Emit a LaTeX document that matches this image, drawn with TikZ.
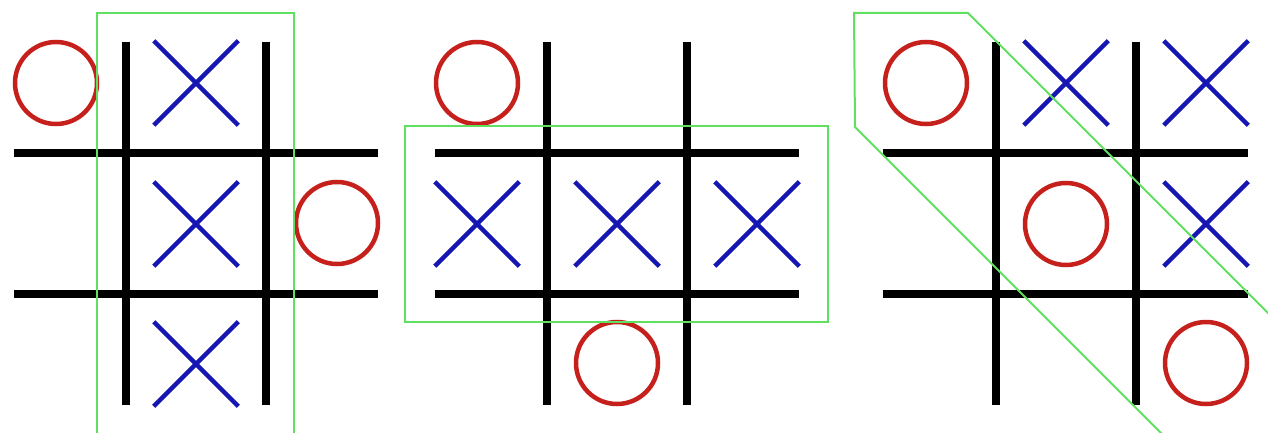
\documentclass[tikz,border=0pt]{standalone}
\usetikzlibrary{shapes.misc}
\definecolor{ored}{RGB}{198,32,28}
\definecolor{xblue}{RGB}{22,22,178}
\definecolor{hlgreen}{RGB}{95,225,95}
\begin{document}
\begin{tikzpicture}[x=1pt,y=-1pt,
  gridline/.style={line width=7.5pt,black},
  xmark/.style={draw=xblue,cross out,line width=4.5pt,minimum size=80pt,inner sep=0pt},
  omark/.style={draw=ored,circle,line width=4.5pt,minimum size=82pt,inner sep=0pt},
  hl/.style={draw=hlgreen,line width=2pt}]
\useasboundingbox (0,0) rectangle (1268,433);
\fill[white] (0,0) rectangle (1268,433);
\clip (0,0) rectangle (1268,433);
% grids
\foreach \a/\b/\c/\d in {126/266/14/378, 547/687/435/799, 996/1136/883/1248}{
  \draw[gridline] (\a,42) -- (\a,405);
  \draw[gridline] (\b,42) -- (\b,405);
  \draw[gridline] (\c,153) -- (\d,153);
  \draw[gridline] (\c,294) -- (\d,294);
}
% board 1
\node[xmark] (b1x1) at (196,83) {};
\node[xmark] (b1x2) at (196,224) {};
\node[xmark] (b1x3) at (196,364) {};
\node[omark] (b1o1) at (56,83) {};
\node[omark] (b1o2) at (337,223) {};
\draw[hl] (97,440) -- (97,13) -- (294,13) -- (294,440);
% board 2
\node[xmark] (b2x1) at (477,224) {};
\node[xmark] (b2x2) at (617,224) {};
\node[xmark] (b2x3) at (757,224) {};
\node[omark] (b2o1) at (477,83) {};
\node[omark] (b2o2) at (617,363) {};
\draw[hl] (405,126) rectangle (828,322);
% board 3
\node[omark] (b3o1) at (926,83) {};
\node[xmark] (b3x1) at (1066,83) {};
\node[xmark] (b3x2) at (1206,83) {};
\node[omark] (b3o2) at (1066,224) {};
\node[xmark] (b3x3) at (1206,224) {};
\node[omark] (b3o3) at (1206,363) {};
\draw[hl] (1300,345) -- (968,13) -- (854,13) -- (855,127) -- (1180,452);
\end{tikzpicture}
\end{document}
